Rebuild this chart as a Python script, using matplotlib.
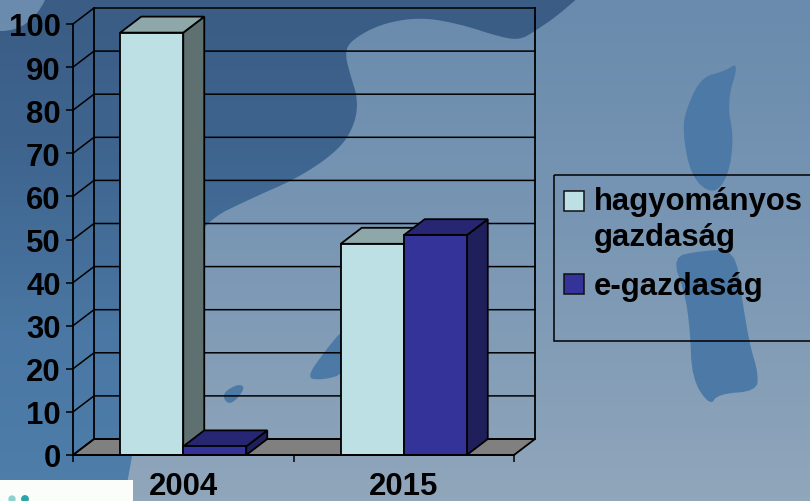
import numpy as np
import matplotlib
matplotlib.use('Agg')
import matplotlib.pyplot as plt
from matplotlib.colors import LinearSegmentedColormap
from matplotlib.patches import Polygon, Rectangle

categories = ['2004', '2015']
series_names = ['hagyományos\ngazdaság', 'e-gazdaság']
hagyomanyos = [98, 49]
e_gazdasag = [2, 51]
y_ticks = list(range(0, 101, 10))

W, H = 810, 502
FS = 22.4
plt.rcParams['font.family'] = ['Liberation Sans', 'DejaVu Sans']
fig = plt.figure(figsize=(W / 100, H / 100), dpi=100)


def soft(points, rounds=3):
    """Round the corners of a backdrop outline."""
    p = np.asarray(points, float)
    for _ in range(rounds):
        q = np.roll(p, -1, axis=0)
        p = np.column_stack([0.75 * p + 0.25 * q, 0.25 * p + 0.75 * q]).reshape(-1, 2)
    return p


# ---------- backdrop (pixel coordinates) ----------
bg = fig.add_axes([0, 0, 1, 1], zorder=0)
bg.set_xlim(0, W); bg.set_ylim(H, 0); bg.axis('off')
yy, xx = np.mgrid[0:1:100j, 0:1:100j]
light = LinearSegmentedColormap.from_list('bg', ['#6a8bad', '#7a97b4', '#90a6bb'])
bg.imshow(yy, extent=(0, W, H, 0), cmap=light, aspect='auto', zorder=0)

blob_outline = [(-30, 32), (30, 32), (60, -30), (610, -30), (560, 15), (535, 32), (520, 41), (500, 38), (460, 25),
                (420, 18), (380, 25), (350, 42), (345, 55), (350, 75), (358, 100), (355, 125), (340, 150), (300, 178),
                (250, 200), (205, 222), (170, 280), (145, 380), (130, 470), (118, 530), (-30, 530)]
blue = LinearSegmentedColormap.from_list('blob', ['#3a5c85', '#3f6690', '#4a77a3', '#4f7eaa'])
blob_img = bg.imshow(yy, extent=(0, W, H, 0), cmap=blue, aspect='auto', zorder=1)
blob_img.set_clip_path(Polygon(soft(blob_outline), closed=True, transform=bg.transData))

lake_upper = [(739, 63), (725, 72), (702, 78), (688, 105), (682, 130), (691, 178), (713, 196), (728, 178),
              (734, 140), (727, 103)]
lake_lower = [(672, 258), (700, 252), (735, 250), (742, 300), (750, 347), (758, 373), (757, 392), (718, 395),
              (710, 407), (692, 380), (690, 330), (685, 295)]
spot = [(224, 393), (238, 385), (245, 388), (238, 399), (230, 405), (224, 401)]
wedge = [(306, 379), (325, 352), (345, 328), (365, 330), (345, 375), (322, 381)]
for shape in (lake_upper, lake_lower, spot, wedge):
    bg.add_patch(Polygon(soft(shape, 2), closed=True, fc='#4d79a6', ec='none', zorder=2))

bg.add_patch(Rectangle((0, 481), 133, 21, fc='#fbfdfb', ec='none', zorder=3))
bg.scatter([12, 25], [500, 500], s=[28, 32], c=['#8fd0d0', '#2aa5a5'], zorder=4, linewidths=0)

# ---------- chart: x in category units, y in percent ----------
PX_X = 220.5
PX_Y = 4.31
X0, Y0 = 73, 456
ax = fig.add_axes([0, 0, 1, 1], zorder=1)
ax.patch.set_alpha(0)
ax.set_xlim(-X0 / PX_X, (W - X0) / PX_X)
ax.set_ylim((Y0 - H) / PX_Y, Y0 / PX_Y)
dx, dy = 21 / PX_X, 16 / PX_Y
n_cat = len(categories)
LW = 1.3

# floor and walls
ax.add_patch(Polygon([(0, 0), (n_cat, 0), (n_cat + dx, dy), (dx, dy)], closed=True,
                     fc='#808080', ec='black', lw=LW, zorder=2))
for v in y_ticks:
    ax.plot([0, dx, n_cat + dx], [v, v + dy, v + dy], color='black', lw=1.1, zorder=2, solid_joinstyle='miter')
ax.plot([dx, dx], [dy, 100 + dy], color='black', lw=LW, zorder=2)
ax.plot([n_cat + dx, n_cat + dx], [dy, 100 + dy], color='black', lw=LW, zorder=2)


def bar3d(x, w, v, front, top, side, z):
    ax.add_patch(Polygon([(x + w, 0), (x + w + dx, dy), (x + w + dx, v + dy), (x + w, v)], closed=True,
                         fc=side, ec='black', lw=LW, zorder=z))
    ax.add_patch(Polygon([(x, v), (x + w, v), (x + w + dx, v + dy), (x + dx, v + dy)], closed=True,
                         fc=top, ec='black', lw=LW, zorder=z))
    ax.add_patch(Rectangle((x, 0), w, v, fc=front, ec='black', lw=LW, zorder=z))


bw = 63 / PX_X
for i in range(n_cat):
    c = i + 0.5
    bar3d(c - bw, bw, hagyomanyos[i], '#bde0e4', '#8ea8aa', '#5e7070', 3 + i * 2)
    bar3d(c, bw, e_gazdasag[i], '#333399', '#262673', '#1f1f5c', 4 + i * 2)

# axes lines, ticks, labels
for s in ['top', 'right']:
    ax.spines[s].set_visible(False)
ax.spines['left'].set_position(('data', 0)); ax.spines['left'].set_bounds(0, 100)
ax.spines['bottom'].set_position(('data', 0)); ax.spines['bottom'].set_bounds(0, n_cat)
for s in ['left', 'bottom']:
    ax.spines[s].set_linewidth(LW); ax.spines[s].set_zorder(10)
ax.set_yticks(y_ticks)
ax.set_yticklabels([str(v) for v in y_ticks], fontsize=FS, fontweight='bold', color='black')
ax.set_xticks(np.arange(n_cat + 1))
ax.set_xticklabels([''] * (n_cat + 1))
ax.set_xticks(np.arange(n_cat) + 0.5, minor=True)
ax.set_xticklabels(categories, minor=True, fontsize=FS, fontweight='bold', color='black')
ax.tick_params(axis='y', length=5, width=1.1, pad=4)
ax.tick_params(axis='x', which='major', length=5, width=1.1, direction='out')
ax.tick_params(axis='x', which='minor', length=0, pad=11.5)

# legend (pixel coordinates on an overlay)
lg = fig.add_axes([0, 0, 1, 1], zorder=2)
lg.set_xlim(0, W); lg.set_ylim(H, 0); lg.axis('off')
lg.add_patch(Rectangle((553.5, 175.5), 262, 166, fc='none', ec='black', lw=1.1, clip_on=False))
colors = ['#bde0e4', '#333399']
for name, col, sy, ty in zip(series_names, colors, [192, 274.5], [187, 272]):
    lg.add_patch(Rectangle((564, sy), 20, 20, fc=col, ec='#111111', lw=1.1))
    lg.text(594, ty, name, fontsize=FS, fontweight='bold', va='top', linespacing=1.27, color='black')

fig.savefig('out.png', dpi=100)
